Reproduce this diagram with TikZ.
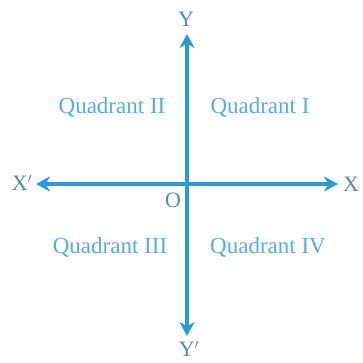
\documentclass[tikz,border=0pt]{standalone}
\usepackage{fontspec}
\setmainfont{Liberation Serif}
\usetikzlibrary{arrows.meta}
\definecolor{axisblue}{HTML}{2A9AD4}
\definecolor{quadblue}{HTML}{55AEDC}
\definecolor{lblgrey}{HTML}{5F86A2}
\begin{document}
\begin{tikzpicture}[x=1pt,y=-1pt,
  axis/.style={draw=axisblue,line width=3.4pt,-{Stealth[length=14pt,width=15pt,inset=4.5pt]}},
  quad/.style={text=quadblue,font=\fontsize{23}{26}\selectfont,inner sep=0pt},
  lbl/.style={text=lblgrey,font=\fontsize{22}{25}\selectfont,inner sep=0pt}]
\useasboundingbox (0,0) rectangle (362,363);
\coordinate (o) at (187,184);
\coordinate (xl) at (36,184);
\coordinate (xr) at (338,184);
\coordinate (yt) at (187,34);
\coordinate (yb) at (187,336);
\draw[axis] (o) -- (xr);
\draw[axis] (o) -- (xl);
\draw[axis] (o) -- (yt);
\draw[axis] (o) -- (yb);
\node[lbl] (ylab) at (186,19) {Y};
\node[lbl] (yplab) at (189,349) {Y$'$};
\node[lbl] (xlab) at (351,184) {X};
\node[lbl] (xplab) at (22,183) {X$'$};
\node[lbl] (olab) at (173,200) {O};
\node[quad] (q2) at (112,107) {Quadrant II};
\node[quad] (q1) at (260,107) {Quadrant I};
\node[quad] (q3) at (110,247) {Quadrant III};
\node[quad] (q4) at (268,247) {Quadrant IV};
\end{tikzpicture}
\end{document}
